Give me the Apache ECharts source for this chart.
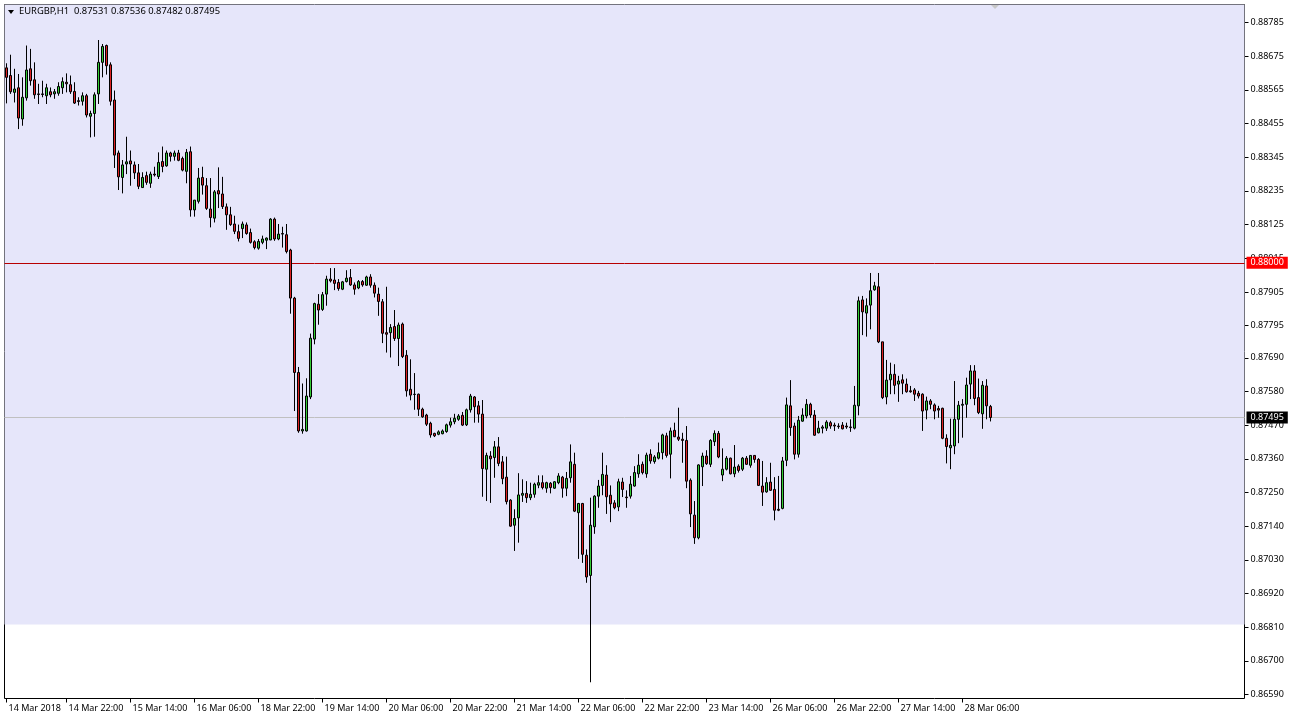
<!DOCTYPE html>
<html><head><meta charset="utf-8">
<script src="https://cdn.jsdelivr.net/npm/echarts@6/dist/echarts.min.js"></script>
<style>html,body{margin:0;padding:0;background:#fff;}#c{width:1291px;height:721px;}</style>
</head><body><div id="c"></div>
<script>
const symbolName = 'EURGBP,H1';
const opens = [0.88637,0.88612,0.88557,0.88572,0.88470,0.88539,0.88634,0.88598,0.88552,0.88552,
0.88546,0.88559,0.88552,0.88554,0.88572,0.88590,0.88582,0.88560,0.88530,0.88528,
0.88546,0.88479,0.88488,0.88552,0.88655,0.88710,0.88647,0.88532,0.88359,0.88279,
0.88323,0.88333,0.88320,0.88294,0.88246,0.88285,0.88260,0.88290,0.88282,0.88331,
0.88317,0.88359,0.88348,0.88359,0.88341,0.88299,0.88363,0.88173,0.88201,0.88279,
0.88252,0.88176,0.88146,0.88236,0.88225,0.88183,0.88157,0.88127,0.88102,0.88112,
0.88124,0.88099,0.88069,0.88048,0.88067,0.88074,0.88075,0.88143,0.88078,0.88096,
0.88092,0.88042,0.87885,0.87642,0.87451,0.87451,0.87562,0.87751,0.87865,0.87848,
0.87898,0.87947,0.87944,0.87936,0.87914,0.87939,0.87952,0.87928,0.87918,0.87939,
0.87927,0.87954,0.87927,0.87898,0.87873,0.87772,0.87772,0.87792,0.87753,0.87800,
0.87698,0.87587,0.87571,0.87571,0.87522,0.87503,0.87476,0.87443,0.87440,0.87442,
0.87449,0.87470,0.87481,0.87489,0.87502,0.87471,0.87520,0.87562,0.87533,0.87506,
0.87326,0.87369,0.87364,0.87399,0.87350,0.87300,0.87225,0.87143,0.87167,0.87241,
0.87247,0.87233,0.87244,0.87274,0.87282,0.87264,0.87280,0.87264,0.87282,0.87300,
0.87264,0.87298,0.87342,0.87184,0.87214,0.87045,0.86979,0.87138,0.87238,0.87273,
0.87307,0.87241,0.87216,0.87203,0.87284,0.87235,0.87238,0.87271,0.87311,0.87342,
0.87311,0.87375,0.87351,0.87362,0.87380,0.87435,0.87375,0.87453,0.87431,0.87424,
0.87420,0.87290,0.87176,0.87102,0.87334,0.87369,0.87342,0.87416,0.87443,0.87307,
0.87326,0.87362,0.87311,0.87336,0.87326,0.87362,0.87339,0.87371,0.87358,0.87271,
0.87252,0.87284,0.87260,0.87195,0.87198,0.87355,0.87533,0.87467,0.87375,0.87483,
0.87500,0.87538,0.87503,0.87445,0.87460,0.87460,0.87478,0.87470,0.87467,0.87470,
0.87467,0.87464,0.87460,0.87533,0.87879,0.87836,0.87862,0.87912,0.87922,0.87742,
0.87562,0.87618,0.87636,0.87604,0.87618,0.87604,0.87582,0.87585,0.87574,0.87571,
0.87519,0.87549,0.87536,0.87524,0.87525,0.87427,0.87396,0.87402,0.87489,0.87535,
0.87538,0.87604,0.87647,0.87560,0.87507,0.87598,0.87531];
const highs = [0.88652,0.88680,0.88634,0.88617,0.88606,0.88710,0.88699,0.88655,0.88585,0.88595,
0.88585,0.88573,0.88568,0.88590,0.88606,0.88619,0.88612,0.88590,0.88541,0.88557,
0.88552,0.88497,0.88557,0.88728,0.88715,0.88713,0.88655,0.88563,0.88367,0.88336,
0.88412,0.88367,0.88331,0.88323,0.88296,0.88298,0.88298,0.88314,0.88361,0.88380,
0.88367,0.88363,0.88367,0.88369,0.88347,0.88372,0.88380,0.88205,0.88310,0.88314,
0.88277,0.88277,0.88238,0.88312,0.88281,0.88194,0.88183,0.88154,0.88125,0.88135,
0.88132,0.88112,0.88074,0.88078,0.88089,0.88083,0.88146,0.88148,0.88127,0.88118,
0.88127,0.88046,0.87889,0.87660,0.87606,0.87623,0.87769,0.87870,0.87898,0.87905,
0.87958,0.87983,0.87983,0.87947,0.87941,0.87976,0.87980,0.87936,0.87944,0.87944,
0.87958,0.87963,0.87936,0.87919,0.87882,0.87922,0.87800,0.87846,0.87805,0.87805,
0.87715,0.87685,0.87640,0.87573,0.87527,0.87507,0.87481,0.87445,0.87453,0.87456,
0.87475,0.87494,0.87507,0.87506,0.87513,0.87524,0.87572,0.87565,0.87549,0.87552,
0.87380,0.87385,0.87418,0.87431,0.87369,0.87367,0.87228,0.87195,0.87313,0.87293,
0.87287,0.87282,0.87282,0.87306,0.87306,0.87285,0.87284,0.87287,0.87313,0.87304,
0.87317,0.87407,0.87380,0.87216,0.87216,0.87064,0.87233,0.87241,0.87291,0.87380,
0.87339,0.87273,0.87225,0.87295,0.87298,0.87257,0.87304,0.87336,0.87375,0.87351,
0.87380,0.87391,0.87372,0.87413,0.87442,0.87445,0.87462,0.87478,0.87527,0.87445,
0.87467,0.87296,0.87222,0.87342,0.87380,0.87388,0.87424,0.87453,0.87451,0.87394,
0.87369,0.87364,0.87405,0.87342,0.87366,0.87369,0.87372,0.87372,0.87362,0.87353,
0.87300,0.87347,0.87300,0.87304,0.87366,0.87560,0.87617,0.87478,0.87500,0.87525,
0.87555,0.87543,0.87519,0.87484,0.87470,0.87486,0.87484,0.87478,0.87476,0.87480,
0.87478,0.87489,0.87598,0.87890,0.87892,0.87884,0.87967,0.87938,0.87967,0.87742,
0.87683,0.87674,0.87669,0.87631,0.87636,0.87622,0.87598,0.87591,0.87582,0.87574,
0.87563,0.87555,0.87541,0.87533,0.87527,0.87440,0.87491,0.87614,0.87549,0.87555,
0.87625,0.87666,0.87666,0.87622,0.87614,0.87620,0.87536];
const lows = [0.88521,0.88552,0.88524,0.88437,0.88448,0.88530,0.88579,0.88536,0.88519,0.88541,
0.88519,0.88541,0.88536,0.88546,0.88552,0.88557,0.88552,0.88519,0.88514,0.88514,
0.88475,0.88410,0.88412,0.88519,0.88606,0.88615,0.88514,0.88310,0.88238,0.88227,
0.88290,0.88252,0.88274,0.88241,0.88245,0.88255,0.88245,0.88282,0.88274,0.88296,
0.88314,0.88331,0.88334,0.88332,0.88299,0.88260,0.88151,0.88151,0.88194,0.88223,
0.88173,0.88116,0.88132,0.88179,0.88176,0.88108,0.88121,0.88094,0.88070,0.88081,
0.88092,0.88063,0.88044,0.88043,0.88061,0.88045,0.88074,0.88072,0.88074,0.88050,
0.88031,0.87834,0.87516,0.87445,0.87442,0.87449,0.87555,0.87734,0.87798,0.87843,
0.87860,0.87936,0.87911,0.87909,0.87911,0.87936,0.87925,0.87896,0.87914,0.87922,
0.87925,0.87919,0.87887,0.87827,0.87738,0.87707,0.87691,0.87745,0.87663,0.87689,
0.87563,0.87551,0.87520,0.87500,0.87494,0.87467,0.87429,0.87431,0.87437,0.87440,
0.87445,0.87462,0.87473,0.87484,0.87467,0.87467,0.87511,0.87478,0.87478,0.87236,
0.87222,0.87216,0.87298,0.87336,0.87277,0.87211,0.87138,0.87059,0.87086,0.87219,
0.87216,0.87225,0.87233,0.87264,0.87260,0.87249,0.87247,0.87262,0.87277,0.87233,
0.87238,0.87282,0.87186,0.87033,0.87020,0.86955,0.86630,0.87115,0.87200,0.87241,
0.87180,0.87153,0.87195,0.87189,0.87235,0.87200,0.87230,0.87269,0.87298,0.87309,
0.87298,0.87344,0.87344,0.87358,0.87358,0.87364,0.87296,0.87431,0.87418,0.87347,
0.87264,0.87137,0.87082,0.87097,0.87271,0.87340,0.87333,0.87402,0.87362,0.87287,
0.87322,0.87309,0.87300,0.87315,0.87320,0.87340,0.87331,0.87347,0.87271,0.87206,
0.87249,0.87255,0.87159,0.87189,0.87195,0.87336,0.87435,0.87358,0.87364,0.87481,
0.87492,0.87494,0.87435,0.87443,0.87443,0.87451,0.87458,0.87451,0.87458,0.87456,
0.87458,0.87448,0.87456,0.87502,0.87764,0.87759,0.87783,0.87909,0.87738,0.87555,
0.87538,0.87571,0.87571,0.87546,0.87571,0.87576,0.87576,0.87549,0.87557,0.87451,
0.87489,0.87522,0.87489,0.87494,0.87424,0.87345,0.87326,0.87375,0.87411,0.87429,
0.87494,0.87555,0.87535,0.87506,0.87458,0.87489,0.87482];
const closes = [0.88606,0.88559,0.88568,0.88473,0.88541,0.88630,0.88595,0.88549,0.88550,0.88550,
0.88572,0.88549,0.88559,0.88576,0.88592,0.88585,0.88559,0.88522,0.88527,0.88546,
0.88483,0.88488,0.88549,0.88655,0.88707,0.88644,0.88528,0.88352,0.88281,0.88320,
0.88330,0.88323,0.88294,0.88250,0.88279,0.88263,0.88290,0.88287,0.88328,0.88315,
0.88359,0.88348,0.88359,0.88335,0.88303,0.88361,0.88173,0.88205,0.88277,0.88254,
0.88178,0.88148,0.88232,0.88225,0.88184,0.88157,0.88125,0.88103,0.88080,0.88127,
0.88096,0.88067,0.88050,0.88070,0.88078,0.88081,0.88143,0.88078,0.88094,0.88094,
0.88037,0.87885,0.87642,0.87451,0.87456,0.87565,0.87754,0.87867,0.87846,0.87896,
0.87947,0.87941,0.87933,0.87916,0.87938,0.87950,0.87928,0.87914,0.87939,0.87928,
0.87954,0.87927,0.87901,0.87874,0.87770,0.87767,0.87789,0.87753,0.87797,0.87694,
0.87582,0.87568,0.87570,0.87522,0.87497,0.87473,0.87438,0.87435,0.87448,0.87451,
0.87471,0.87481,0.87492,0.87500,0.87470,0.87520,0.87565,0.87530,0.87506,0.87328,
0.87371,0.87360,0.87399,0.87345,0.87295,0.87220,0.87140,0.87165,0.87242,0.87247,
0.87233,0.87244,0.87277,0.87282,0.87266,0.87282,0.87266,0.87285,0.87304,0.87264,
0.87296,0.87350,0.87189,0.87214,0.87048,0.86974,0.87143,0.87238,0.87271,0.87309,
0.87236,0.87213,0.87200,0.87285,0.87260,0.87233,0.87277,0.87315,0.87339,0.87315,
0.87372,0.87353,0.87366,0.87380,0.87438,0.87371,0.87451,0.87432,0.87424,0.87420,
0.87287,0.87180,0.87102,0.87340,0.87369,0.87344,0.87420,0.87443,0.87366,0.87326,
0.87362,0.87311,0.87333,0.87322,0.87362,0.87342,0.87371,0.87358,0.87273,0.87251,
0.87282,0.87257,0.87192,0.87192,0.87353,0.87536,0.87462,0.87375,0.87486,0.87503,
0.87538,0.87503,0.87437,0.87460,0.87464,0.87480,0.87467,0.87467,0.87465,0.87458,
0.87464,0.87462,0.87535,0.87876,0.87840,0.87860,0.87909,0.87925,0.87742,0.87560,
0.87617,0.87636,0.87600,0.87614,0.87607,0.87579,0.87579,0.87571,0.87565,0.87516,
0.87549,0.87538,0.87516,0.87519,0.87427,0.87400,0.87404,0.87489,0.87535,0.87538,
0.87601,0.87647,0.87557,0.87511,0.87600,0.87533,0.87495];

const xTickIndex = [0,15,31,47,63,79,95,111,127,143,159,175,191,207,223,239];
const xTickLabels = ['14 Mar 2018','14 Mar 22:00','15 Mar 14:00','16 Mar 06:00','18 Mar 22:00','19 Mar 14:00',
  '20 Mar 06:00','20 Mar 22:00','21 Mar 14:00','22 Mar 06:00','22 Mar 22:00','23 Mar 14:00',
  '26 Mar 06:00','26 Mar 22:00','27 Mar 14:00','28 Mar 06:00'];
const yTickValues = [0.88785,0.88675,0.88565,0.88455,0.88345,0.88235,0.88125,0.88015,0.87905,0.87795,
  0.87690,0.87580,0.87470,0.87360,0.87250,0.87140,0.87030,0.86920,0.86810,0.86700,0.86590];
const levelLine = 0.88000;
const rectLow = 0.86819;
const yMin = 0.86577, yMax = 0.88844;
const totalSlots = 310;

const FONT = '"Noto Sans", "Liberation Sans", sans-serif';
const n = opens.length;
const last = n - 1;
const categories = Array.from({length: totalSlots}, (_, i) => String(i));
const candleData = opens.map((o, i) => [o, closes[i], lows[i], highs[i]]);
const tickSet = new Set(xTickIndex);
const fmt = v => v.toFixed(5);

const chart = echarts.init(document.getElementById('c'), null, {renderer: 'canvas'});
chart.setOption({
  animation: false,
  backgroundColor: '#ffffff',
  grid: {left: 4.5, right: 46.5, top: 4.5, bottom: 22.5, show: true, borderColor: '#000', borderWidth: 1, backgroundColor: '#ffffff'},
  xAxis: {
    type: 'category', data: categories, boundaryGap: true,
    axisLine: {show: false},
    axisTick: {show: true, alignWithLabel: true, interval: (i) => tickSet.has(i), length: 4, lineStyle: {color: '#000'}},
    axisLabel: {interval: (i) => tickSet.has(i), formatter: (v, i) => xTickLabels[xTickIndex.indexOf(i)] || '',
      align: 'left', color: '#000', fontFamily: FONT, fontSize: 9, margin: 5, padding: [0, 0, 0, 2]},
    splitLine: {show: false}
  },
  yAxis: {
    type: 'value', position: 'right', min: yMin, max: yMax, scale: true,
    splitLine: {show: false}, axisLine: {show: false},
    axisTick: {show: true, customValues: yTickValues, length: 4, lineStyle: {color: '#000'}},
    axisLabel: {customValues: yTickValues, formatter: fmt, color: '#000', fontFamily: FONT, fontSize: 9, margin: 6}
  },
  graphic: [
    {type: 'polygon', z: 100, shape: {points: [[8, 10], [14, 10], [11, 14]]}, style: {fill: '#000'}},
    {type: 'text', z: 100, left: 19, top: 7, style: {text: symbolName + '  ' + [opens[last], highs[last], lows[last], closes[last]].map(fmt).join(' '),
      font: '9.4px ' + FONT, fill: '#000'}},
    {type: 'polygon', z: 100, shape: {points: [[991, 5], [999, 5], [995, 9]]}, style: {fill: '#C8C8C8'}}
  ],
  series: [
    {
      type: 'line', data: [], z: 1, silent: true,
      markArea: {silent: true, itemStyle: {color: '#E6E6FA'}, data: [[{yAxis: rectLow}, {yAxis: yMax}]]}
    },
    {
      type: 'candlestick', data: candleData, z: 5, barWidth: 2,
      itemStyle: {color: '#33CC33', color0: '#DD2222', borderColor: '#000', borderColor0: '#000', borderColorDoji: '#000', borderWidth: 1},
      markLine: {
        symbol: ['none', 'none'], silent: true, animation: false, precision: 5,
        data: [
          {yAxis: levelLine, lineStyle: {color: '#B80000', width: 1, type: 'solid'},
            label: {show: true, position: 'end', formatter: fmt(levelLine), backgroundColor: '#FF0000', color: '#fff',
              padding: [2, 4, 1, 4], fontSize: 9, fontFamily: FONT, distance: 2}},
          {yAxis: closes[last], lineStyle: {color: '#C0C0C0', width: 1, type: 'solid'},
            label: {show: true, position: 'end', formatter: fmt(closes[last]), backgroundColor: '#000', color: '#fff',
              padding: [2, 4, 1, 4], fontSize: 9, fontFamily: FONT, distance: 2}}
        ]
      }
    }
  ]
});
</script>
</body></html>
